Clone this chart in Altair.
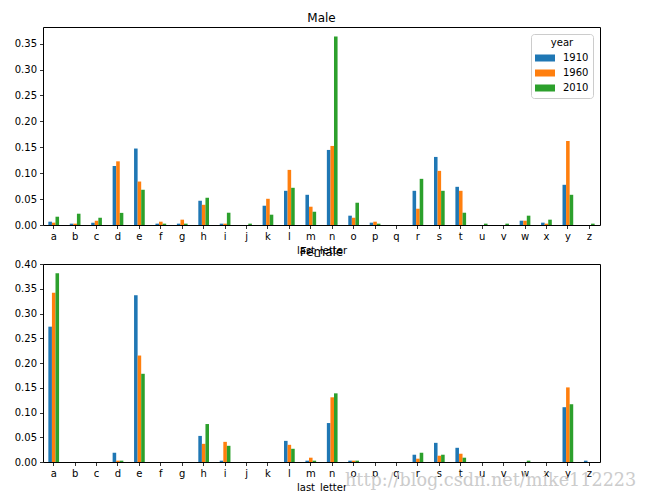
import altair as alt
import pandas as pd
import numpy as np

letters = list("abcdefghijklmnopqrstuvwxyz")
years = ["1910", "1960", "2010"]
nan = np.nan

male_1910 = [0.0064, 0.0026, 0.0045, 0.1139, 0.1476, 0.0026, 0.0026, 0.0468, 0.0026, nan,
             0.0372, 0.0660, 0.0583, 0.1449, 0.0180, 0.0045, nan, 0.0660, 0.1314, 0.0737,
             nan, nan, 0.0083, 0.0045, 0.0776, nan]
male_1960 = [0.0045, 0.0026, 0.0083, 0.1229, 0.0839, 0.0064, 0.0103, 0.0390, 0.0026, nan,
             0.0506, 0.1064, 0.0353, 0.1526, 0.0140, 0.0064, nan, 0.0314, 0.1045, 0.0660,
             nan, nan, 0.0083, 0.0026, 0.1622, nan]
male_2010 = [0.0160, 0.0218, 0.0140, 0.0234, 0.0680, 0.0026, 0.0026, 0.0526, 0.0237, 0.0026,
             0.0199, 0.0718, 0.0256, 0.3640, 0.0430, 0.0026, nan, 0.0891, 0.0660, 0.0237,
             0.0026, 0.0026, 0.0180, 0.0103, 0.0583, 0.0026]

female_1910 = [0.2734, nan, nan, 0.0187, 0.3369, nan, nan, 0.0527, 0.0027, nan,
               nan, 0.0427, 0.0027, 0.0787, 0.0027, nan, nan, 0.0147, 0.0387, 0.0287,
               nan, nan, nan, nan, 0.1107, 0.0027]
female_1960 = [0.3419, nan, nan, 0.0027, 0.2151, nan, nan, 0.0367, 0.0407, nan,
               nan, 0.0347, 0.0087, 0.1307, 0.0027, nan, nan, 0.0067, 0.0127, 0.0167,
               nan, nan, nan, nan, 0.1507, nan]
female_2010 = [0.3812, nan, nan, 0.0027, 0.1782, nan, nan, 0.0767, 0.0327, nan,
               nan, 0.0267, 0.0027, 0.1387, 0.0027, nan, nan, 0.0187, 0.0147, 0.0087,
               nan, nan, 0.0027, nan, 0.1167, nan]

def long(series):
    rows = []
    for yr, vals in zip(years, series):
        for l, v in zip(letters, vals):
            if not np.isnan(v):
                rows.append({"last_letter": l, "year": yr, "value": v})
    return pd.DataFrame(rows)

male_df = long([male_1910, male_1960, male_2010])
female_df = long([female_1910, female_1960, female_2010])

colors = ["#1f77b4", "#ff7f0e", "#2ca02c"]
W, H = 557, 198
rect = "M-1,-0.35L1,-0.35L1,0.35L-1,0.35Z"

def panel(df, domain, ticks, legend):
    enc_color = alt.Color(
        "year:N",
        scale=alt.Scale(domain=years, range=colors),
        legend=alt.Legend(
            orient="top-right", title="year", titleFontWeight="normal",
            titleAnchor="middle", titleFontSize=10, labelFontSize=10,
            symbolType=rect, symbolSize=400, symbolStrokeWidth=0,
            strokeColor="#cccccc", fillColor="white", padding=4,
            cornerRadius=3, offset=7, labelColor="black", titleColor="black",
            clipHeight=12, rowPadding=3, labelOffset=8, titlePadding=4,
        ) if legend else None,
    )
    bars = alt.Chart(df).mark_bar().encode(
        x=alt.X("last_letter:N", sort=letters,
                scale=alt.Scale(domain=letters, paddingInner=0.5, paddingOuter=0.25),
                axis=alt.Axis(labelAngle=0, title="last_letter")),
        xOffset=alt.XOffset("year:N", sort=years, scale=alt.Scale(domain=years, paddingInner=0, paddingOuter=0)),
        y=alt.Y("value:Q", scale=alt.Scale(domain=domain, nice=False),
                axis=alt.Axis(values=ticks, format=".2f", title=None)),
        color=enc_color,
    )
    return bars.properties(width=W, height=H)

top = panel(male_df, [0, 0.3822], [0, 0.05, 0.10, 0.15, 0.20, 0.25, 0.30, 0.35], True).properties(
    title=alt.TitleParams("Male", offset=2))
bottom_bars = panel(female_df, [0, 0.40], [0, 0.05, 0.10, 0.15, 0.20, 0.25, 0.30, 0.35, 0.40], False)

wm_df = pd.DataFrame({"t": ["http://blog.csdn.net/mike112223"]})
watermark = alt.Chart(wm_df).mark_text(
    font="DejaVu Serif", fontSize=17.6, color="#cccccc", align="left", baseline="alphabetic",
).encode(text="t:N", x=alt.value(302), y=alt.value(222))

bottom = alt.layer(bottom_bars, watermark).properties(
    width=W, height=H, title=alt.TitleParams("Female", offset=0))

chart = alt.vconcat(top, bottom, spacing=39, bounds="flush").properties(
    padding={"top": 3, "left": 5, "right": 5, "bottom": 0},
).configure(
    font="DejaVu Sans",
).configure_view(
    stroke="black", strokeWidth=1,
).configure_axis(
    grid=False, domain=False, tickColor="black", tickSize=3.5, tickWidth=0.8,
    labelColor="black", labelFontSize=10, labelFont="DejaVu Sans", labelPadding=3,
    titleColor="black", titleFontSize=10, titleFontWeight="normal", titleFont="DejaVu Sans",
    titlePadding=4,
).configure_title(
    fontSize=12, fontWeight="normal", font="DejaVu Sans", color="black",
).configure_legend(
    labelFont="DejaVu Sans", titleFont="DejaVu Sans",
)

chart.save("out.html", embed_options={"renderer": "svg", "actions": False})
